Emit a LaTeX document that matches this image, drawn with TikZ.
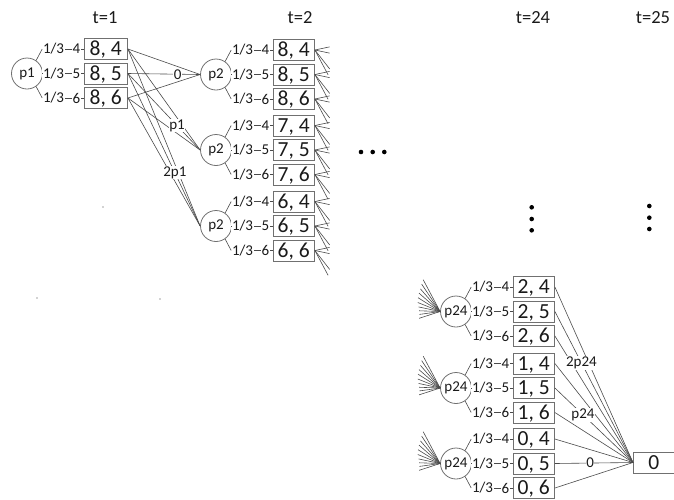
\documentclass[tikz,border=0pt]{standalone}
\usepackage{fontspec}
\setmainfont{Carlito}
\usetikzlibrary{calc}
\definecolor{ink}{HTML}{1a1a1a}
\definecolor{wire}{HTML}{4a4a4a}
\definecolor{frame}{HTML}{707070}

% one chance node with its three outcome boxes:
% #1 name, #2 x, #3 y, #4 circle text, #5 first number, #6 box width
\newcommand\stagegroup[6]{%
  \node[chance] (#1) at (#2,#3) {#4};
  \foreach \k/\dy/\ang in {4/-24.5/55, 5/0/0, 6/24.5/-55} {
    \node[state, minimum width=#6, anchor=west] (#1-\k) at ($(#1.center)+(56.5,\dy)$) {#5, \k};
    \node[lbl] (#1-q\k) at ($(#1-\k.west)+(-30,0)$) {1/3};
    \node[lbl] (#1-n\k) at ($(#1-\k.west)+(-7,0)$) {\k};
    \draw[conn] (#1.\ang) -- (#1-q\k.west);
    \draw[conn] (#1-q\k) -- (#1-n\k) -- (#1-\k);
  }%
}

\begin{document}
\begin{tikzpicture}[x=1pt, y=-1pt,
  state/.style={draw=frame, line width=0.9pt, minimum height=21pt, inner sep=0pt,
    font=\fontsize{21.5}{21.5}\selectfont, text=ink, text height=13.5pt, text depth=0pt},
  chance/.style={circle, draw=frame, line width=0.8pt, minimum size=31pt, inner sep=0pt,
    font=\fontsize{15}{15}\selectfont, text=ink},
  lbl/.style={inner sep=0.6pt, font=\fontsize{15}{15}\selectfont, text=ink, fill=white},
  conn/.style={draw=wire, line width=0.6pt},
  stage/.style={font=\fontsize{18.5}{18.5}\selectfont, text=ink},
  dot/.style={circle, fill=black, inner sep=0pt, minimum size=4.6pt},
  speck/.style={circle, fill=gray!70, inner sep=0pt, minimum size=1.6pt}
]
\useasboundingbox (0,0) rectangle (674,499);

% stage headings
\node[stage] (h1)  at (105,18) {t=1};
\node[stage] (h2)  at (300,18) {t=2};
\node[stage] (h24) at (533,18) {t=24};
\node[stage] (h25) at (653,18) {t=25};

% t = 1
\stagegroup{c1}{27}{73.5}{p1}{8}{43.5pt}

% t = 2
\stagegroup{c2a}{216}{74.5}{p2}{8}{41.5pt}
\stagegroup{c2b}{216}{150}{p2}{7}{41.5pt}
\stagegroup{c2c}{216}{226}{p2}{6}{41.5pt}

% t = 24
\stagegroup{c24a}{456}{311.5}{p24}{2}{41.5pt}
\stagegroup{c24b}{456}{388}{p24}{1}{41.5pt}
\stagegroup{c24c}{456}{463.5}{p24}{0}{41.5pt}

% t = 25
\node[state, minimum width=40.5pt, anchor=west] (fin) at (633,462.5) {0};

% transitions t=1 -> t=2
\foreach \s in {4,5,6}
  \foreach \g in {c2a,c2b,c2c}
    \draw[conn] (c1-\s.east) -- (\g.west);

% transitions t=24 -> t=25
\foreach \g in {c24a,c24b,c24c}
  \foreach \k in {4,5,6}
    \draw[conn] (\g-\k.east) -- (fin.west);

% outgoing branches of t=2 (cut short)
\foreach \g in {c2a,c2b,c2c}
  \foreach \k in {4,5,6}
    \foreach \a/\l in {-12/15, 12/15, 52/24, 62/28}
      \draw[conn] (\g-\k.east) -- ++(\a:\l);

% incoming branches of t=24 (cut short)
\foreach \g in {c24a,c24b,c24c}
  \foreach \a/\l in {118/36, 124/33, 131/30, 139/28, 148/26, 158/24, 168/22, 178/21, 188/21, 198/22}
    \draw[conn] (\g.west) -- ++(-\a:\l);

% transition labels
\path (c1-5.east) -- (c2a.west) node[lbl, pos=0.69] {0};
\path (c1-5.east) -- (c2b.west) node[lbl, pos=0.68] {p1};
\path (c1-5.east) -- (c2c.west) node[lbl, pos=0.65] {2p1};
\path (c24a-5.east) -- (fin.west) node[lbl, pos=0.34] {2p24};
\path (c24b-5.east) -- (fin.west) node[lbl, pos=0.36] {p24};
\path (c24c-5.east) -- (fin.west) node[lbl, pos=0.45] {0};

% ellipses
\foreach \x/\y [count=\i] in {361/152, 372.7/152, 384.3/152,
    531.7/207.3, 531.7/219, 531.7/230.3,
    649.3/206, 649.3/217.7, 649.3/229}
  \node[dot] (e\i) at (\x,\y) {};

% stray marks
\node[speck] (s1) at (103,207) {};
\node[speck] (s2) at (37,298) {};
\node[speck] (s3) at (160,299) {};
\end{tikzpicture}
\end{document}
